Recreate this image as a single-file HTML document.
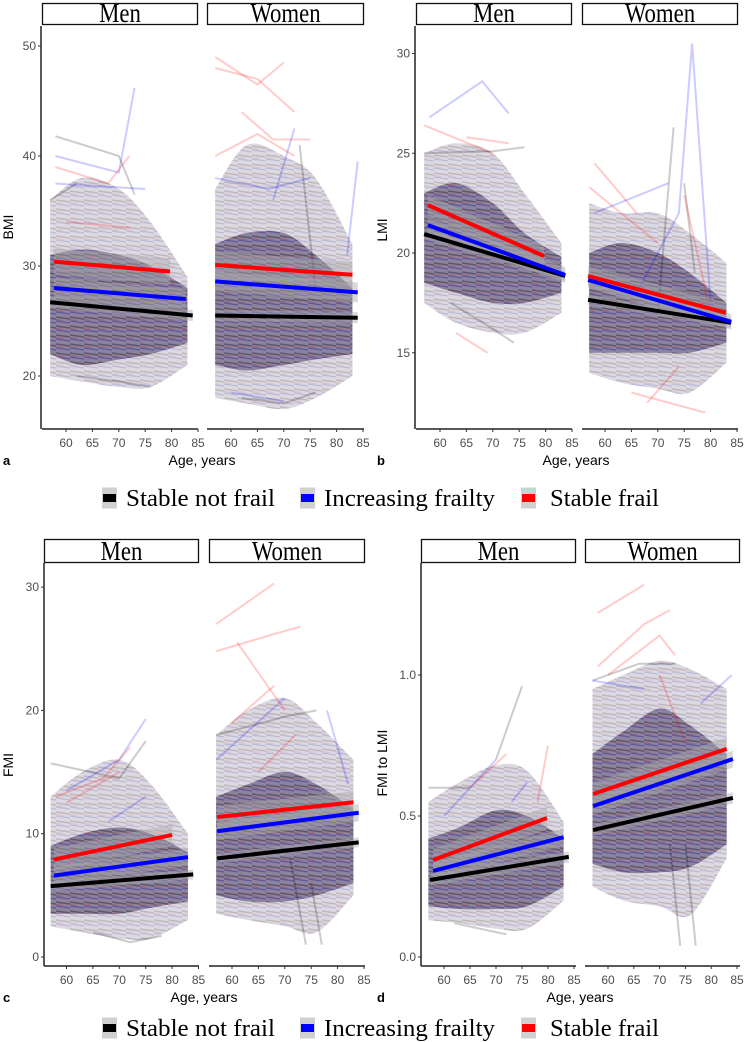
<!DOCTYPE html>
<html><head><meta charset="utf-8"><style>
html,body{margin:0;padding:0;background:#fff}
svg{display:block}
</style></head><body>
<svg id="fig" width="745" height="1042" viewBox="0 0 745 1042" xmlns="http://www.w3.org/2000/svg">
<defs>
<pattern id="tex" width="14" height="9" patternUnits="userSpaceOnUse">
<line x1="0" y1="2" x2="14" y2="4" stroke="rgba(0,0,0,0.25)" stroke-width="1.5"/>
<line x1="0" y1="6" x2="14" y2="8" stroke="rgba(0,0,180,0.25)" stroke-width="1.2"/>
<line x1="0" y1="4.5" x2="7" y2="5.5" stroke="rgba(200,0,0,0.2)" stroke-width="1"/>
</pattern>
</defs>
</svg>
<script>
// ---- data ----
// fit lines: [startAge, startValue, endAge, endValue]; order: stable frail (red), increasing frailty (blue), stable not frail (black)
const aMenFit   = [[57.7,30.4,79.7,29.5],[57.7,28.0,82.7,27.0],[57,26.7,84,25.5]];
const aWomenFit = [[57,30.1,83,29.2],[57,28.6,84,27.6],[57,25.5,84,25.3]];
const bMenFit   = [[57.7,22.4,79.7,19.85],[57.7,21.4,83.7,18.9],[57,20.95,83.7,18.85]];
const bWomenFit = [[56.8,18.85,82.9,17.0],[56.8,18.65,83.9,16.55],[56.8,17.65,83.9,16.5]];
const cMenFit   = [[57.6,7.9,80,9.9],[57.6,6.6,83,8.1],[57,5.75,84,6.7]];
const cWomenFit = [[57.2,11.35,83,12.55],[57.2,10.2,84,11.7],[57.2,8.0,84,9.3]];
const dMenFit   = [[57.9,0.344,79.8,0.493],[57.9,0.305,83,0.425],[57.3,0.273,84,0.355]];
const dWomenFit = [[57.1,0.578,83,0.738],[57.1,0.535,84.2,0.702],[57.1,0.45,84.2,0.564]];
// confidence band half-widths per panel (red, blue, black)
const aCI = [1.2,0.9,0.5], bCI = [0.5,0.4,0.25], cCI = [0.9,0.7,0.4], dCI = [0.04,0.03,0.02];
// trajectory cloud envelopes
const cloudAges = [57,63,70,76,83];
const aMenCore = [[22,31],[21,31.5],[21.5,31],[22,30],[23,28]];
const aMenOuter = [[20,36],[19.5,38],[19,37],[19,34],[21,29]];
const aWomenCore = [[21,32],[20.5,33],[21,33],[21.5,31],[22,28]];
const aWomenOuter = [[18,37],[17.5,41],[17,40],[18,38],[20,32]];
const bMenCore = [[18.5,23],[18,23.5],[17.5,22.5],[17.5,21],[18,19.8]];
const bMenOuter = [[17.5,25],[16.5,25.5],[16,25],[16,23],[17,20.5]];
const bWomenCore = [[15,20],[15,20.5],[15,20],[15,19],[15.5,17.5]];
const bWomenOuter = [[14,22.5],[13.5,22],[13.2,22],[13,21],[14.5,19.5]];
const cMenCore = [[3.5,9],[3.5,10],[3.5,10.5],[4,10],[4.5,8.5]];
const cMenOuter = [[2.5,13],[2,15],[1.5,16],[1.5,14],[3,10]];
const cWomenCore = [[5,13],[4.5,14],[4.5,15],[5,14],[6,12]];
const cWomenOuter = [[3.5,18],[3,20],[2.5,21],[2,19],[5,16]];
const dMenCore = [[0.18,0.42],[0.17,0.46],[0.17,0.52],[0.18,0.5],[0.25,0.42]];
const dMenOuter = [[0.13,0.55],[0.12,0.62],[0.1,0.68],[0.1,0.66],[0.2,0.48]];
const dWomenCore = [[0.33,0.72],[0.3,0.8],[0.3,0.88],[0.32,0.82],[0.4,0.72]];
const dWomenOuter = [[0.25,0.95],[0.2,1.0],[0.18,1.05],[0.15,1.02],[0.35,0.95]];
// individual outlying trajectories: [group, [[age,value],...]]  group: r/b/k
const aMenTraj = [['b',[[58,40],[70,38.5],[73,46.2]]],['k',[[58,41.8],[70,40],[73,36.5]]],['r',[[58,39],[68,37.5],[72,40]]],['k',[[57,36],[62,37.5]]],['b',[[58,37.5],[75,37]]],['r',[[60,34],[72,33.5]]],['k',[[62,20],[70,19.5],[76,19]]]];
const aWomenTraj = [['r',[[57,49],[65,46.5],[70,48.5]]],['r',[[57,48],[65,47],[72,44]]],['r',[[62,44],[68,41.5],[75,41.5]]],['r',[[57,40],[65,42],[72,40]]],['b',[[57,38],[67,37],[75,38]]],['b',[[68,36],[72,42.5]]],['k',[[73,41],[76,28]]],['b',[[82,31],[84,39.5]]],['k',[[62,18],[70,17.5],[76,18.5]]],['b',[[60,18.5],[70,17.7]]]];
const bMenTraj = [['b',[[58,26.8],[68,28.6],[73,27]]],['r',[[57,26.4],[70,25]]],['r',[[65,25.8],[73,25.5]]],['k',[[57,25],[70,25.1],[76,25.3]]],['r',[[63,16],[69,15]]],['k',[[62,17.5],[70,16.2],[74,15.5]]]];
const bWomenTraj = [['b',[[66,18],[74,22],[76.5,30.5],[80,17.5]]],['k',[[70,17],[73,26.3]]],['r',[[58,24.5],[66,22]]],['r',[[57,23.3],[70,20.5]]],['k',[[75,23.5],[77,19]]],['r',[[75,22.9],[80,17]]],['r',[[65,13],[79,12]]],['r',[[68,12.5],[74,14.3]]],['b',[[58,22],[72,23.5]]]];
const cMenTraj = [['b',[[60,13.5],[70,16],[75,19.3]]],['k',[[57,15.7],[70,14.5],[75,17.5]]],['r',[[58,13],[67,14.5],[72,17]]],['r',[[60,12.5],[70,15]]],['k',[[65,2],[72,1.2],[78,1.7]]],['b',[[68,11],[75,13]]]];
const cWomenTraj = [['r',[[57,27],[68,30.3]]],['r',[[57,24.8],[68,26.2],[73,26.8]]],['r',[[61,25.5],[70,20]]],['b',[[57,16],[70,21]]],['r',[[60,19],[68,22]]],['k',[[57,18],[70,19.5],[76,20]]],['b',[[78,20],[82,14]]],['k',[[71,8],[74,1]]],['k',[[75,6],[77,1]]],['r',[[65,15],[72,18]]]];
const dMenTraj = [['k',[[70,0.7],[75,0.96]]],['r',[[65,0.6],[72,0.72]]],['b',[[60,0.5],[70,0.7]]],['k',[[57,0.6],[65,0.6]]],['b',[[73,0.55],[76,0.62]]],['r',[[78,0.55],[80,0.75]]],['k',[[62,0.12],[72,0.08]]]];
const dWomenTraj = [['r',[[58,1.22],[67,1.32]]],['r',[[58,1.03],[67,1.18],[72,1.23]]],['r',[[60,1.0],[70,1.14],[73,1.07]]],['k',[[57,0.98],[66,1.04],[73,1.04]]],['b',[[57,0.98],[67,0.95]]],['k',[[72,0.4],[74,0.04]]],['k',[[75,0.4],[77,0.04]]],['b',[[78,0.9],[84,1.0]]],['r',[[70,1.0],[75,0.76]]]];
// tick labels
const xTicks = [60,65,70,75,80,85];
const aYTicks = [20,30,40,50], bYTicks = [15,20,25,30], cYTicks = [0,10,20,30], dYTicks = [0,0.5,1.0];
const dYLabels = ['0.0','0.5','1.0'];
const legendLabels = ['Stable not frail','Increasing frailty','Stable frail'];

// ---- layout ----
const NS='http://www.w3.org/2000/svg';
const svg=document.getElementById('fig');
function el(tag,attrs,parent){const e=document.createElementNS(NS,tag);for(const k in attrs)e.setAttribute(k,attrs[k]);(parent||svg).appendChild(e);return e;}
const COL={r:'#ff0000',b:'#0000ff',k:'#000000'};
const TCOL={r:'rgba(255,0,0,0.2)',b:'rgba(0,0,255,0.2)',k:'rgba(0,0,0,0.2)'};
const FIT_KEYS=['r','b','k'];

const panels=[
 {id:'a',title:'BMI',axisX:41,top:26,bottom:429,strip:[3,25],yS:v=>376-(v-20)*11,yt:aYTicks,yl:aYTicks.map(String),ci:aCI,titleX:8,titleY:227,letterX:3,ageX:202,
  f:[{name:'Men',r:[42,198],x60:66,k:5.28,fit:aMenFit,core:aMenCore,outer:aMenOuter,traj:aMenTraj},{name:'Women',r:[207,364],x60:231,k:5.28,fit:aWomenFit,core:aWomenCore,outer:aWomenOuter,traj:aWomenTraj}]},
 {id:'b',title:'LMI',axisX:415,top:26,bottom:429,strip:[3,25],yS:v=>253-(v-20)*19.95,yt:bYTicks,yl:bYTicks.map(String),ci:bCI,titleX:382,titleY:230,letterX:377,ageX:576,
  f:[{name:'Men',r:[416,572],x60:440,k:5.28,fit:bMenFit,core:bMenCore,outer:bMenOuter,traj:bMenTraj},{name:'Women',r:[582,738],x60:605,k:5.28,fit:bWomenFit,core:bWomenCore,outer:bWomenOuter,traj:bWomenTraj}]},
 {id:'c',title:'FMI',axisX:44,top:563,bottom:966,strip:[539,563],yS:v=>957-v*12.33,yt:cYTicks,yl:cYTicks.map(String),ci:cCI,titleX:8,titleY:765,letterX:3,ageX:204,
  f:[{name:'Men',r:[44,199],x60:66.5,k:5.28,fit:cMenFit,core:cMenCore,outer:cMenOuter,traj:cMenTraj},{name:'Women',r:[209,365],x60:232,k:5.28,fit:cWomenFit,core:cWomenCore,outer:cWomenOuter,traj:cWomenTraj}]},
 {id:'d',title:'FMI to LMI',axisX:421,top:563,bottom:966,strip:[539,563],yS:v=>957-v*282,yt:dYTicks,yl:dYLabels,ci:dCI,titleX:382,titleY:763,letterX:377,ageX:580,
  f:[{name:'Men',r:[421,576],x60:444,k:5.2,fit:dMenFit,core:dMenCore,outer:dMenOuter,traj:dMenTraj},{name:'Women',r:[585,740],x60:608,k:5.16,fit:dWomenFit,core:dWomenCore,outer:dWomenOuter,traj:dWomenTraj}]}
];

// smooth closed path through envelope points (Catmull-Rom style)
function smoothLine(pts){
  let d='';
  for(let i=0;i<pts.length-1;i++){
    const p0=pts[Math.max(i-1,0)],p1=pts[i],p2=pts[i+1],p3=pts[Math.min(i+2,pts.length-1)];
    const c1=[p1[0]+(p2[0]-p0[0])/6,p1[1]+(p2[1]-p0[1])/6];
    const c2=[p2[0]-(p3[0]-p1[0])/6,p2[1]-(p3[1]-p1[1])/6];
    d+='C'+c1.map(n=>n.toFixed(1)).join(',')+' '+c2.map(n=>n.toFixed(1)).join(',')+' '+p2.map(n=>n.toFixed(1)).join(',');
  }
  return d;
}
function envPath(xS,yS,env){
  const top=cloudAges.map((a,i)=>[xS(a),yS(env[i][1])]);
  const bot=cloudAges.map((a,i)=>[xS(a),yS(env[i][0])]).reverse();
  return 'M'+top[0].join(',')+smoothLine(top)+'L'+bot[0].join(',')+smoothLine(bot)+'Z';
}

panels.forEach(p=>{
  const g=el('g',{});
  
  
  const tickLabelY=p.bottom+18;
  p.f.forEach(f=>{
    const xS=a=>f.x60+(a-60)*f.k;
    const fg=el('g',{},g);
    
    
    // strip
    const sr=el('rect',{x:f.r[0]+0.5,y:p.strip[0]+0.5,width:f.r[1]-f.r[0]-1,height:p.strip[1]-p.strip[0]-1,fill:'#fff',stroke:'#111','stroke-width':1.3},fg);
    
    
    const cx=(f.r[0]+f.r[1])/2, by=p.strip[1]-3;
    const st=el('text',{x:0,y:0,transform:'translate('+cx+' '+by+') scale(0.95 1.15)','text-anchor':'middle','font-family':'"Liberation Serif",serif','font-size':24,fill:'#000'},fg);
    st.textContent=f.name;
    
    
    // clouds
    const od=envPath(xS,p.yS,f.outer), cd=envPath(xS,p.yS,f.core);
    const o=el('path',{d:od,fill:'rgba(120,105,130,0.25)'},fg);
    
    
    el('path',{d:od,fill:'url(#tex)',opacity:0.6},fg);
    const c=el('path',{d:cd,fill:'rgba(75,60,100,0.55)'},fg);
    
    
    el('path',{d:cd,fill:'url(#tex)'},fg);
    // outlying trajectories
    f.traj.forEach(t=>{
      const pl=el('polyline',{points:t[1].map(q=>xS(q[0]).toFixed(1)+','+p.yS(q[1]).toFixed(1)).join(' '),fill:'none',stroke:TCOL[t[0]],'stroke-width':2},fg);
      
      
    });
    // CI bands
    f.fit.forEach((L,i)=>{
      const h=p.ci[i];
      const d='M'+xS(L[0])+','+p.yS(L[1]+h)+'L'+xS(L[2])+','+p.yS(L[3]+h)+'L'+xS(L[2])+','+p.yS(L[3]-h)+'L'+xS(L[0])+','+p.yS(L[1]-h)+'Z';
      const b=el('path',{d:d,fill:'rgba(170,170,170,0.45)'},fg);
      
      
    });
    // fit lines
    [2,1,0].forEach(i=>{
      const L=f.fit[i];
      const ln=el('line',{x1:xS(L[0]),y1:p.yS(L[1]),x2:xS(L[2]),y2:p.yS(L[3]),stroke:COL[FIT_KEYS[i]],'stroke-width':4},fg);
      
      
    });
    // x axis
    const xa=el('line',{x1:f.r[0],y1:p.bottom,x2:f.r[1],y2:p.bottom,stroke:'#222','stroke-width':1.5},fg);
    
    
    xTicks.forEach(a=>{
      el('line',{x1:xS(a),y1:p.bottom,x2:xS(a),y2:p.bottom+3,stroke:'#333','stroke-width':1},fg);
      const tl=el('text',{x:xS(a),y:tickLabelY,'text-anchor':'middle','font-family':'"Liberation Sans",sans-serif','font-size':12,fill:'#4d4d4d'},fg);
      tl.textContent=a;
      
      
    });
  });
  // y axis
  const ya=el('line',{x1:p.axisX,y1:p.top,x2:p.axisX,y2:p.bottom,stroke:'#222','stroke-width':1.5},g);
  
  
  p.yt.forEach((v,i)=>{
    el('line',{x1:p.axisX-3,y1:p.yS(v),x2:p.axisX,y2:p.yS(v),stroke:'#333','stroke-width':1},g);
    const tl=el('text',{x:p.axisX-5,y:p.yS(v)+4,'text-anchor':'end','font-family':'"Liberation Sans",sans-serif','font-size':12,fill:'#4d4d4d'},g);
    tl.textContent=p.yl[i];
    
    
  });
  const yt=el('text',{x:p.titleX,y:p.titleY,transform:'rotate(-90 '+p.titleX+' '+p.titleY+')','text-anchor':'middle','dominant-baseline':'central','font-family':'"Liberation Sans",sans-serif','font-size':14,fill:'#000'},g);
  yt.textContent=p.title;
  
  
  const xt=el('text',{x:p.ageX,y:p.bottom+36,'text-anchor':'middle','font-family':'"Liberation Sans",sans-serif','font-size':14,fill:'#000'},g);
  xt.textContent='Age, years';
  
  
  const lt=el('text',{x:p.letterX,y:p.bottom+36,'font-family':'"Liberation Sans",sans-serif','font-size':13,'font-weight':'bold',fill:'#000'},g);
  lt.textContent=p.id;
  
  
});

// legends
const legKeyX=[102,300,521], legTextX=[126,324,550], legTextW=[149,171,109];
[498,1028].forEach((cy,li)=>{
  const lg=el('g',{});
  
  
  legendLabels.forEach((lab,i)=>{
    const eg=el('g',{},lg);
    
    
    el('rect',{x:legKeyX[i],y:cy-10.5,width:15,height:21,fill:'#d0d0d0'},eg);
    el('rect',{x:legKeyX[i]+1,y:cy-4,width:13,height:8,fill:COL[FIT_KEYS[[2,1,0][i]]]},eg);
    const t=el('text',{x:legTextX[i],y:cy+8,'font-family':'"Liberation Serif",serif','font-size':24,fill:'#000',textLength:legTextW[i],lengthAdjust:'spacingAndGlyphs'},eg);
    t.textContent=lab;
  });
});
</script>
</body></html>
